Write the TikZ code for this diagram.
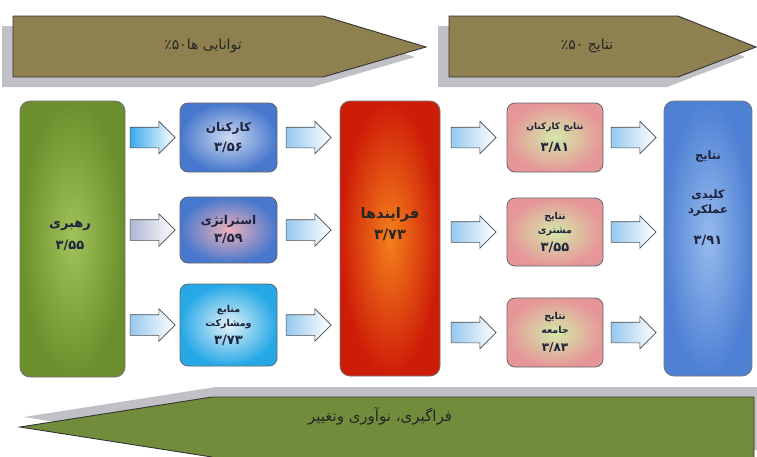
\documentclass[tikz,border=0pt]{standalone}
\usepackage{fontspec}
\usetikzlibrary{shapes.arrows,shadows}
\newfontfamily\farsi[Script=Arabic]{DejaVu Sans}
\TeXXeTstate=1
\newcommand{\fa}[1]{\beginR #1\endR}

\definecolor{olivebanner}{RGB}{143,128,80}
\definecolor{greenbanner}{RGB}{113,141,59}
\definecolor{shadowgray}{RGB}{192,192,198}
\definecolor{leaddark}{RGB}{108,142,44}
\definecolor{leadlight}{RGB}{160,194,90}
\definecolor{staffdark}{RGB}{72,120,205}
\definecolor{stafflight}{RGB}{205,218,242}
\definecolor{stratlight}{RGB}{238,178,188}
\definecolor{resdark}{RGB}{38,168,230}
\definecolor{reslight}{RGB}{228,242,250}
\definecolor{procdark}{RGB}{205,28,8}
\definecolor{proclight}{RGB}{245,128,28}
\definecolor{pinkdark}{RGB}{230,150,152}
\definecolor{pinklight}{RGB}{212,232,168}
\definecolor{kpidark}{RGB}{78,128,212}
\definecolor{kpilight}{RGB}{150,186,236}
\definecolor{arrowblue}{RGB}{150,200,238}
\definecolor{arrowdeep}{RGB}{60,170,235}
\definecolor{arrowgray}{RGB}{175,182,212}
\definecolor{textdark}{RGB}{30,35,60}

\begin{document}
\begin{tikzpicture}[x=1pt,y=-1pt]
    \tikzstyle{banner}=[draw=black!80, line width=0.9pt]
    \tikzstyle{bannertext}=[font=\farsi\fontsize{14}{16}\selectfont, text=black!85]
    \tikzstyle{tallbox}=[rectangle, rounded corners=10pt, draw=black!55, line width=0.8pt, inner sep=0pt]
    \tikzstyle{smallbox}=[rectangle, rounded corners=8pt, draw=black!60, line width=0.8pt, inner sep=2pt, minimum width=97pt, align=center, text=textdark, font=\farsi\bfseries\fontsize{12}{14}\selectfont]
    \tikzstyle{boxtext}=[align=center, text=textdark, font=\farsi\bfseries\fontsize{13}{16}\selectfont]
    \tikzstyle{fatarrow}=[single arrow, draw=black!70, line width=0.6pt, minimum height=45pt, text height=20pt, text depth=0pt, single arrow head extend=6pt, single arrow head indent=0pt, inner sep=0pt, xshift=-5pt, left color=arrowblue, right color=white]
    \path[use as bounding box, fill=white] (0,0) rectangle (757,456);

    % top and bottom banners
    \path[banner, fill=olivebanner, drop shadow={shadow xshift=-11pt, shadow yshift=-10pt, fill=shadowgray, opacity=1}]
        (13,16) -- (323,16) -- (426,47) -- (323,77) -- (13,77) -- cycle;
    \path[banner, fill=olivebanner, drop shadow={shadow xshift=-11pt, shadow yshift=-10pt, fill=shadowgray, opacity=1}]
        (449,16) -- (678,16) -- (756,47) -- (678,77) -- (449,77) -- cycle;
    \path[banner, fill=greenbanner, drop shadow={shadow xshift=4pt, shadow yshift=10pt, fill=shadowgray, opacity=1}]
        (754,460) -- (754,397) -- (212,397) -- (20,427) -- (212,457);
    \node[bannertext] (abilities) at (203,46) {\fa{توانایی ها\beginL ۵۰\endL٪}};
    \node[bannertext] (results) at (587,46) {\fa{نتایج \beginL ۵۰\endL٪}};
    \node[bannertext, font=\farsi\fontsize{15}{17}\selectfont] (learning) at (380,416) {\fa{فراگیری، نوآوری وتغییر}};

    % enablers
    \node[tallbox, minimum width=105pt, minimum height=276pt, inner color=leadlight, outer color=leaddark] (lead) at (72.5,239) {};
    \node[boxtext] (leadtext) at (70,236) {\fa{رهبری}\\[6pt]۳/۵۵};
    \node[smallbox, minimum height=69pt, inner color=stafflight, outer color=staffdark] (staff) at (228.5,137.5) {\fa{کارکنان}\\[6pt]\fontsize{13}{15}\selectfont ۳/۵۶};
    \node[smallbox, minimum height=66pt, inner color=stratlight, outer color=staffdark] (strategy) at (228.5,230) {\fa{استراتژی}\\[4pt]\fontsize{13}{15}\selectfont ۳/۵۹};
    \node[smallbox, minimum height=82pt, inner color=reslight, outer color=resdark] (resources) at (228.5,325) {\fontsize{9.5}{11}\selectfont\fa{منابع}\\\fontsize{9.5}{11}\selectfont\fa{ومشارکت}\\[4pt]\fontsize{13}{15}\selectfont ۳/۷۳};
    \node[tallbox, minimum width=100pt, minimum height=275pt, inner color=proclight, outer color=procdark] (proc) at (390,238.5) {};
    \node[boxtext, font=\farsi\bfseries\fontsize{14.5}{17}\selectfont, text=black!85] (proctext) at (390,224) {\fa{فرایندها}\\[4pt]۳/۷۳};

    % results
    \node[smallbox, minimum width=96pt, minimum height=69pt, inner color=pinklight, outer color=pinkdark] (resstaff) at (555,137.5) {\fontsize{9}{11}\selectfont\fa{نتایج کارکنان}\\[8pt]\fontsize{13}{15}\selectfont ۳/۸۱};
    \node[smallbox, minimum width=96pt, minimum height=68pt, inner color=pinklight, outer color=pinkdark] (rescustomer) at (555,232) {\fontsize{9.5}{11}\selectfont\fa{نتایج}\\\fontsize{9.5}{11}\selectfont\fa{مشتری}\\[4pt]\fontsize{13}{15}\selectfont ۳/۵۵};
    \node[smallbox, minimum width=96pt, minimum height=69pt, inner color=pinklight, outer color=pinkdark] (ressociety) at (555,332.5) {\fontsize{9.5}{11}\selectfont\fa{نتایج}\\\fontsize{9.5}{11}\selectfont\fa{جامعه}\\[4pt]\fontsize{12}{14}\selectfont ۳/۸۳};
    \node[tallbox, minimum width=88pt, minimum height=275pt, inner color=kpilight, outer color=kpidark] (kpi) at (708,238.5) {};
    \node[boxtext, font=\farsi\bfseries\fontsize{11.5}{15}\selectfont] (kpitext) at (708,198) {\fa{نتایج}\\[24pt]\fa{کلیدی}\\\fa{عملکرد}\\[16pt]\fontsize{13}{15}\selectfont ۳/۹۱};

    % block arrows
    \path (lead.east|-staff.west) -- (staff.west) node[midway, fatarrow, left color=arrowdeep] (a11) {};
    \path (lead.east|-strategy.west) -- (strategy.west) node[midway, fatarrow, left color=arrowgray] (a12) {};
    \path (lead.east|-resources.west) -- (resources.west) node[midway, fatarrow] (a13) {};
    \path (staff.east) -- (proc.west|-staff.east) node[midway, fatarrow] (a21) {};
    \path (strategy.east) -- (proc.west|-strategy.east) node[midway, fatarrow] (a22) {};
    \path (resources.east) -- (proc.west|-resources.east) node[midway, fatarrow] (a23) {};
    \path (proc.east|-resstaff.west) -- (resstaff.west) node[midway, fatarrow] (a31) {};
    \path (proc.east|-rescustomer.west) -- (rescustomer.west) node[midway, fatarrow] (a32) {};
    \path (proc.east|-ressociety.west) -- (ressociety.west) node[midway, fatarrow] (a33) {};
    \path (resstaff.east) -- (kpi.west|-resstaff.east) node[midway, fatarrow] (a41) {};
    \path (rescustomer.east) -- (kpi.west|-rescustomer.east) node[midway, fatarrow] (a42) {};
    \path (ressociety.east) -- (kpi.west|-ressociety.east) node[midway, fatarrow] (a43) {};
\end{tikzpicture}
\end{document}
